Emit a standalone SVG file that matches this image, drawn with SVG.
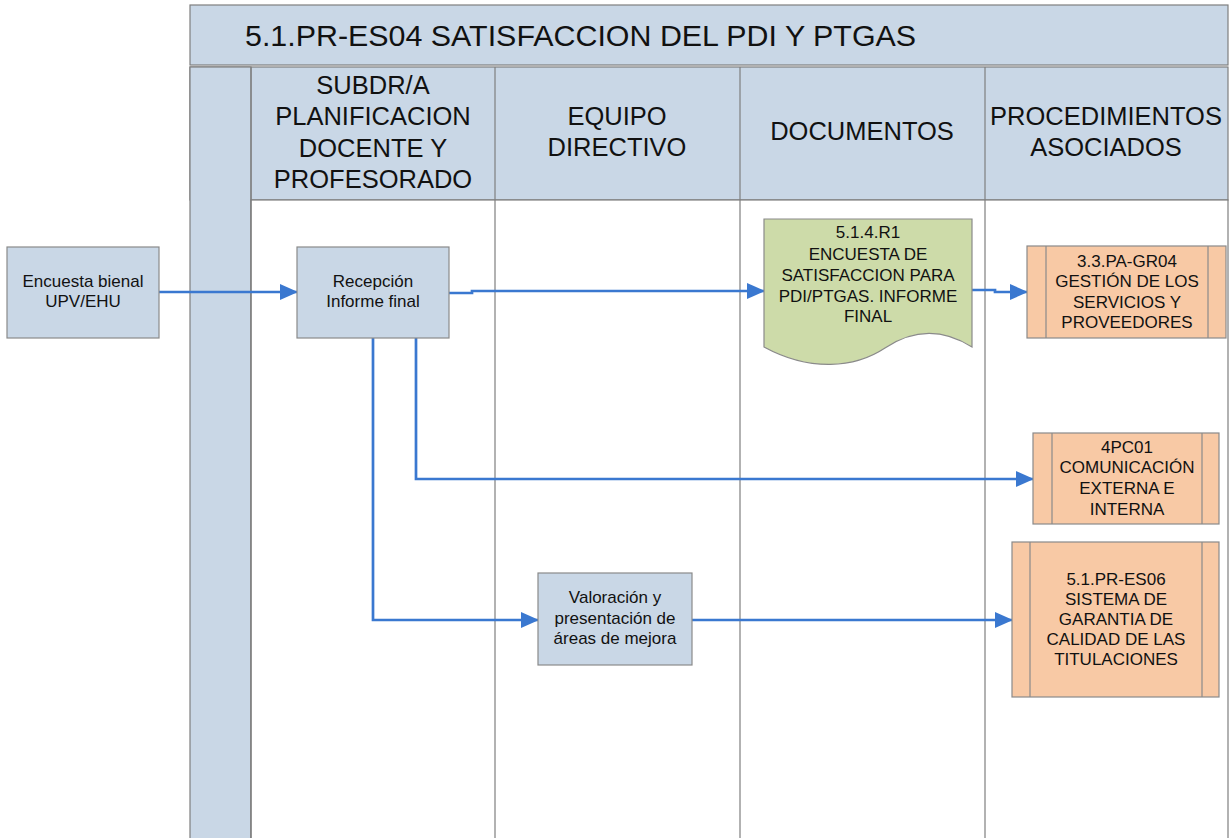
<svg xmlns="http://www.w3.org/2000/svg" width="1230" height="838" viewBox="0 0 1230 838">
<defs>
<style>
.band{fill:#c9d7e6;stroke:#7f7f7f;stroke-width:1.2}
.lane{fill:#ffffff;stroke:#7f7f7f;stroke-width:1.2}
.div{stroke:#7f7f7f;stroke-width:1.2;fill:none}
.proc{fill:#c9d7e6;stroke:#8a8a8a;stroke-width:1.2}
.doc{fill:#cddba9;stroke:#8a8a8a;stroke-width:1.2}
.sub{fill:#f8c9a5;stroke:#8a8a8a;stroke-width:1.2}
.subl{stroke:#8a8a8a;stroke-width:1.2;fill:none}
.t{font-family:"Liberation Sans",Arial,sans-serif;font-size:17px;fill:#111;text-anchor:middle}
.h{font-family:"Liberation Sans",Arial,sans-serif;font-size:25.5px;fill:#111;text-anchor:middle}
.title{font-family:"Liberation Sans",Arial,sans-serif;font-size:30.4px;fill:#111}
.c{fill:none;stroke:#3a78d0;stroke-width:2.7;marker-end:url(#arr)}
</style>
<marker id="arr" viewBox="0 0 18 16" refX="17" refY="8" markerWidth="18" markerHeight="16" markerUnits="userSpaceOnUse" orient="auto">
<path d="M0,0 L18,8 L0,16 z" fill="#3a78d0"/>
</marker>
</defs>
<g id="pool">
<rect class="band" x="190" y="5" width="1038" height="60"/>
<rect class="band" x="190" y="67" width="1038" height="133"/>
<rect class="band" x="190" y="67" width="61" height="775"/>
<rect class="lane" x="251" y="200" width="977" height="642"/>
<line class="div" x1="251" y1="67" x2="251" y2="838"/>
<line class="div" x1="495" y1="67" x2="495" y2="838"/>
<line class="div" x1="740" y1="67" x2="740" y2="838"/>
<line class="div" x1="985" y1="67" x2="985" y2="838"/>
<text class="title" x="245" y="46">5.1.PR-ES04 SATISFACCION DEL PDI Y PTGAS</text>
<text class="h" x="373" y="94">SUBDR/A</text>
<text class="h" x="373" y="125">PLANIFICACION</text>
<text class="h" x="373" y="157">DOCENTE Y</text>
<text class="h" x="373" y="188">PROFESORADO</text>
<text class="h" x="617" y="125">EQUIPO</text>
<text class="h" x="617" y="156">DIRECTIVO</text>
<text class="h" x="862" y="140">DOCUMENTOS</text>
<text class="h" x="1106" y="125">PROCEDIMIENTOS</text>
<text class="h" x="1106" y="156">ASOCIADOS</text>
</g>
<g id="connectors">
<path class="c" d="M159,292 L297,292"/>
<path class="c" d="M449,293 L472,293 L472,291 L764,291"/>
<path class="c" d="M972,290 L995,290 L995,292 L1027,292"/>
<path class="c" d="M416,338 L416,479 L1033,479"/>
<path class="c" d="M373,338 L373,620 L538,620"/>
<path class="c" d="M692,620 L1012,620"/>
</g>
<g id="n-encuesta">
<rect class="proc" x="7" y="247" width="152" height="91"/>
<text class="t" x="83" y="287">Encuesta bienal</text>
<text class="t" x="83" y="307">UPV/EHU</text>
</g>
<g id="n-recepcion">
<rect class="proc" x="297" y="247" width="152" height="91"/>
<text class="t" x="373" y="287">Recepción</text>
<text class="t" x="373" y="307">Informe final</text>
</g>
<g id="n-doc">
<path class="doc" d="M764,219 L972,219 L972,347 C945,330 915,328 885,348 C855,368 810,372 764,347 Z"/>
<text class="t" x="868" y="238">5.1.4.R1</text>
<text class="t" x="868" y="259.5">ENCUESTA DE</text>
<text class="t" x="868" y="281">SATISFACCION PARA</text>
<text class="t" x="868" y="302">PDI/PTGAS. INFORME</text>
<text class="t" x="868" y="322">FINAL</text>
</g>
<g id="n-gr04">
<rect class="sub" x="1027" y="246" width="199" height="92"/>
<line class="subl" x1="1046" y1="246" x2="1046" y2="338"/>
<line class="subl" x1="1208" y1="246" x2="1208" y2="338"/>
<text class="t" x="1127" y="267">3.3.PA-GR04</text>
<text class="t" x="1127" y="287">GESTIÓN DE LOS</text>
<text class="t" x="1127" y="308">SERVICIOS Y</text>
<text class="t" x="1127" y="328">PROVEEDORES</text>
</g>
<g id="n-4pc01">
<rect class="sub" x="1033" y="433" width="186" height="91"/>
<line class="subl" x1="1052" y1="433" x2="1052" y2="524"/>
<line class="subl" x1="1202" y1="433" x2="1202" y2="524"/>
<text class="t" x="1127" y="453">4PC01</text>
<text class="t" x="1127" y="473">COMUNICACIÓN</text>
<text class="t" x="1127" y="494">EXTERNA E</text>
<text class="t" x="1127" y="515">INTERNA</text>
</g>
<g id="n-es06">
<rect class="sub" x="1012" y="542" width="207" height="155"/>
<line class="subl" x1="1030" y1="542" x2="1030" y2="697"/>
<line class="subl" x1="1202" y1="542" x2="1202" y2="697"/>
<text class="t" x="1116" y="585">5.1.PR-ES06</text>
<text class="t" x="1116" y="605">SISTEMA DE</text>
<text class="t" x="1116" y="625">GARANTIA DE</text>
<text class="t" x="1116" y="645">CALIDAD DE LAS</text>
<text class="t" x="1116" y="665">TITULACIONES</text>
</g>
<g id="n-valoracion">
<rect class="proc" x="538" y="573" width="154" height="92"/>
<text class="t" x="615" y="603">Valoración y</text>
<text class="t" x="615" y="624">presentación de</text>
<text class="t" x="615" y="644">áreas de mejora</text>
</g>
</svg>
